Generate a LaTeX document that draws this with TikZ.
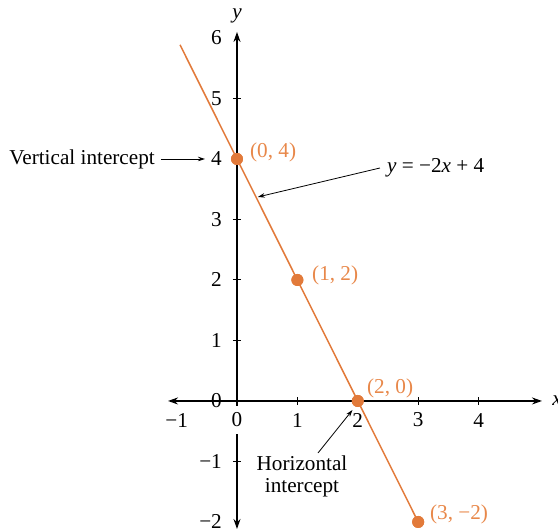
\documentclass[tikz,border=0pt]{standalone}
\usepackage{fontspec}
\setmainfont{Liberation Serif}
\usetikzlibrary{arrows.meta}
\definecolor{orangeC}{RGB}{226,122,58}
\definecolor{orangeT}{RGB}{232,136,74}
\tikzset{
  every node/.style={font=\fontsize{21.2}{23}\selectfont, inner sep=0pt},
  axisline/.style={line width=1.2pt, {Stealth[length=10pt,width=7pt]}-{Stealth[length=10pt,width=7pt]}},
  tickmark/.style={line width=1pt},
  graphline/.style={line width=1.5pt, orangeC},
  ptdot/.style={circle, fill=orangeC, minimum size=12pt, inner sep=0pt},
  ptlabel/.style={anchor=west, text=orangeT},
  callout/.style={line width=0.8pt, -{Stealth[length=7pt,width=4.5pt]}},
  ylab/.style={anchor=east},
  xlab/.style={anchor=center}
}
\begin{document}
\begin{tikzpicture}[x=60.4pt, y=60.5pt]
\useasboundingbox (-3.924,-2.165) rectangle (5.315,6.628);
% axes
\coordinate (xl) at (-1.142,0);
\coordinate (xr) at (5.05,0);
\coordinate (yb) at (0,-2.116);
\coordinate (yt) at (0,6.1);
\draw[axisline] (xl) -- (xr);
\draw[axisline] (yb) -- (yt);
% ticks
\foreach \t in {1,2,3,4} \draw[tickmark] (\t,-4pt) -- (\t,4pt);
\foreach \t in {-1,1,2,3,4,5} \draw[tickmark] (-4pt,\t) -- (4pt,\t);
% axis labels
\node (xname) at (5.22,0) [anchor=west] {\textit{x}};
\node (yname) at (0,6.36) {\textit{y}};
% y tick labels
\foreach \t/\s in {6/6,5/5,4/4,3/3,2/2,1/1,0/0,-1/−1,-2/−2}
  \node[ylab] (yl\t) at (-0.248,\t) {\s};
% x tick labels
\foreach \t/\s in {-1/−1,1/1,2/2,3/3,4/4}
  \node[xlab] (xl\t) at (\t,-0.315) {\s};
\node[xlab, fill=white, inner xsep=2pt, inner ysep=7pt] (xl0) at (0,-0.315) {0};
% graph line and points
\coordinate (ltop) at (-0.944,5.888);
\node[ptdot] (p04) at (0,4) {};
\node[ptdot] (p12) at (1,2) {};
\node[ptdot] (p20) at (2,0) {};
\node[ptdot] (p3m2) at (3,-2) {};
\draw[graphline] (ltop) -- (p3m2.center);
\node[ptdot] at (p04) {};
\node[ptdot] at (p12) {};
\node[ptdot] at (p20) {};
\node[ptdot] at (p3m2) {};
% point labels
\node[ptlabel] (l04) at (0.215,4.116) {(0, 4)};
\node[ptlabel] (l12) at (1.242,2.083) {(1, 2)};
\node[ptlabel] (l20) at (2.152,0.215) {(2, 0)};
\node[ptlabel] (l3m2) at (3.195,-1.868) {(3, −2)};
% vertical intercept
\node[anchor=east] (vint) at (-1.358,4) {Vertical intercept};
\coordinate (vtip) at (-0.53,4);
\draw[callout] ([xshift=6pt]vint.east) -- (vtip);
% equation
\node[anchor=west] (eq) at (2.483,3.851) {\textit{y} = −2\textit{x} + 4};
\coordinate (etip) at (0.345,3.372);
\draw[callout] ([xshift=-7pt]eq.west) -- (etip);
% horizontal intercept
\node[align=center, font=\fontsize{21.2}{22}\selectfont] (hint) at (1.076,-1.24) {Horizontal\\intercept};
\coordinate (hstart) at (1.341,-0.86);
\coordinate (htip) at (1.912,-0.149);
\draw[callout] (hstart) -- (htip);
\end{tikzpicture}
\end{document}
